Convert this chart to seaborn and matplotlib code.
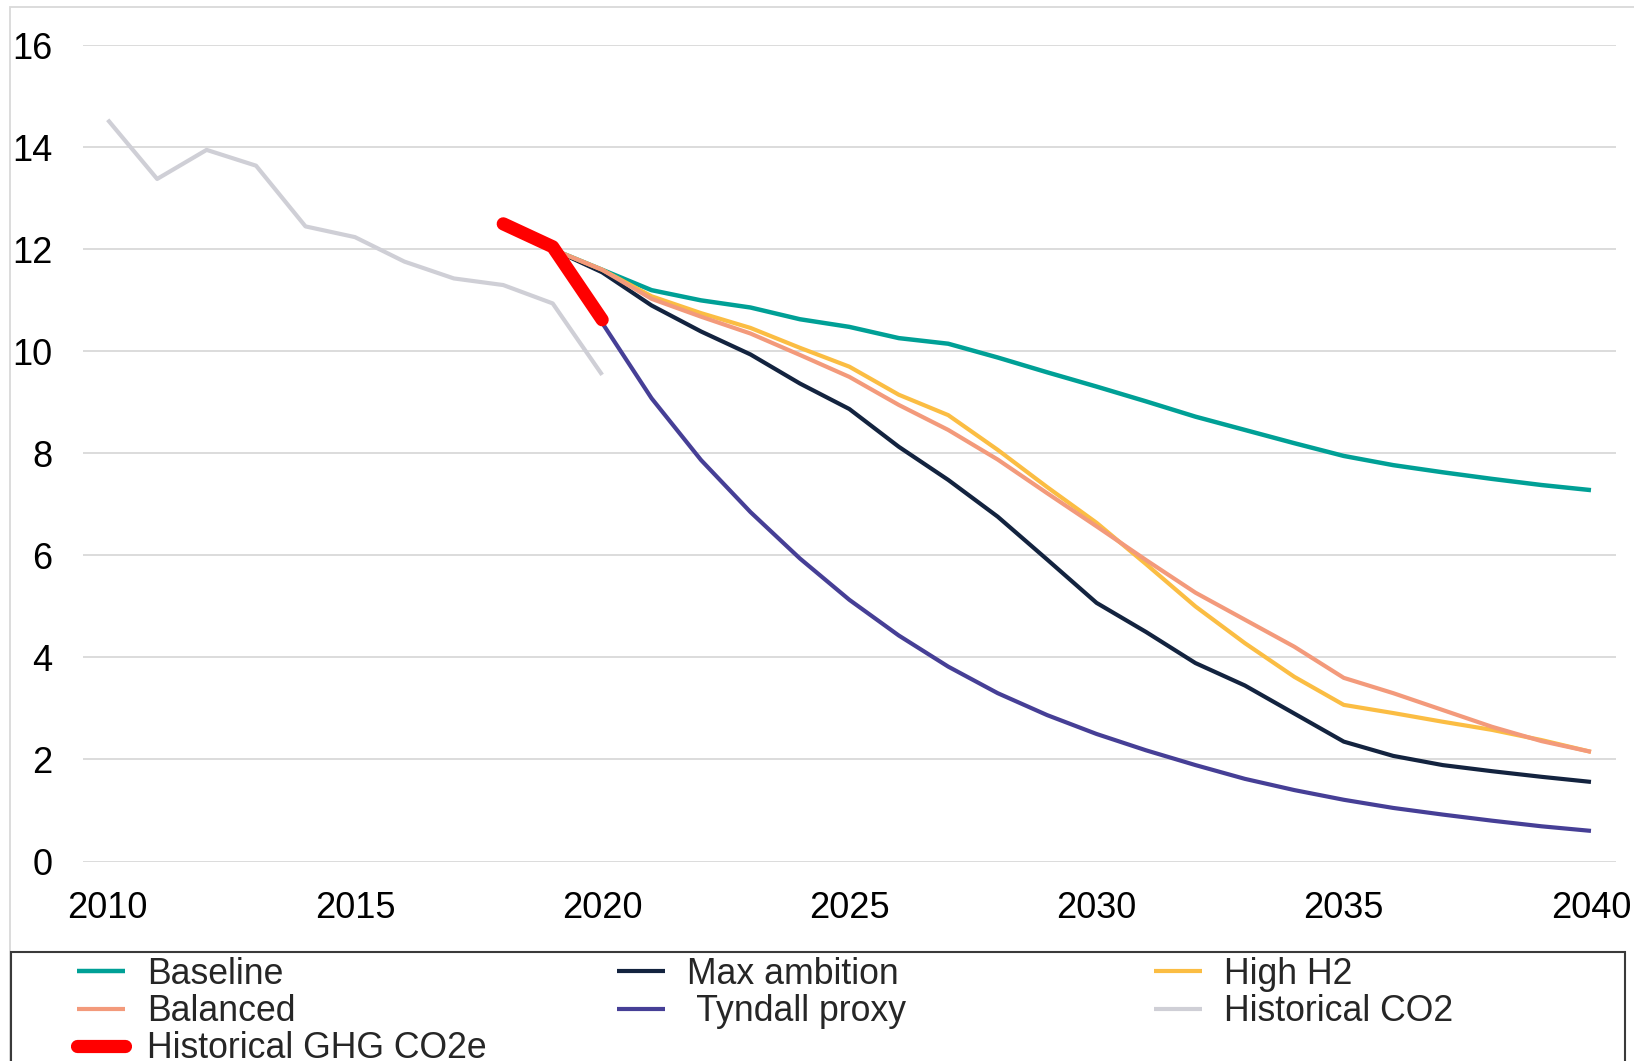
import matplotlib
matplotlib.use("Agg")
import matplotlib.pyplot as plt
from matplotlib.patches import Rectangle
import seaborn as sns
import pandas as pd

# Series values
hist_years = list(range(2010, 2021))
hist_co2 = [14.54, 13.38, 13.95, 13.64, 12.45, 12.24, 11.76, 11.43, 11.30, 10.94, 9.54]

ghg_years = [2018, 2019, 2020]
hist_ghg = [12.50, 12.05, 10.62]

scen_years = list(range(2019, 2041))
baseline = [12.0, 11.6, 11.2, 11.0, 10.86, 10.63, 10.48, 10.26, 10.15, 9.88, 9.59,
            9.31, 9.02, 8.72, 8.46, 8.2, 7.95, 7.77, 7.63, 7.5, 7.38, 7.28]
max_ambition = [12.0, 11.55, 10.9, 10.39, 9.94, 9.37, 8.87, 8.13, 7.48, 6.76, 5.92,
                5.07, 4.5, 3.89, 3.45, 2.9, 2.35, 2.07, 1.89, 1.77, 1.66, 1.56]
high_h2 = [12.0, 11.6, 11.08, 10.75, 10.46, 10.07, 9.7, 9.15, 8.75, 8.07, 7.34,
           6.64, 5.83, 5.0, 4.28, 3.62, 3.07, 2.91, 2.74, 2.58, 2.38, 2.15]
balanced = [12.0, 11.6, 11.03, 10.68, 10.35, 9.93, 9.5, 8.95, 8.46, 7.88, 7.22,
            6.57, 5.91, 5.27, 4.74, 4.21, 3.6, 3.3, 2.97, 2.64, 2.36, 2.15]

tyndall_years = list(range(2020, 2041))
tyndall = [10.56, 9.08, 7.87, 6.85, 5.94, 5.13, 4.43, 3.82, 3.3, 2.87, 2.5,
           2.18, 1.89, 1.62, 1.4, 1.21, 1.05, 0.92, 0.8, 0.69, 0.6]

x_ticks = [2010, 2015, 2020, 2025, 2030, 2035, 2040]
y_ticks = [0, 2, 4, 6, 8, 10, 12, 14, 16]

# (label, years, values, colour, width) in drawing order
series = [
    ("Historical CO2", hist_years, hist_co2, "#CFCFD6", 3.0),
    ("Baseline", scen_years, baseline, "#00A096", 3.2),
    ("Max ambition", scen_years, max_ambition, "#13233F", 3.0),
    ("High H2", scen_years, high_h2, "#FBBD43", 3.0),
    ("Balanced", scen_years, balanced, "#F39A7B", 3.0),
    (" Tyndall proxy", tyndall_years, tyndall, "#463F96", 3.0),
    ("Historical GHG CO2e", ghg_years, hist_ghg, "#FF0000", 9.5),
]

sns.set_theme(style="white")
plt.rcParams["font.family"] = ["Liberation Sans", "DejaVu Sans"]

W, H = 1634, 1061
fig = plt.figure(figsize=(W / 100, H / 100), dpi=100)
ax = fig.add_axes([83 / W, 1 - 861.5 / H, (1615.7 - 83) / W, (861.5 - 45.3) / H])

for label, yrs, vals, col, lw in series:
    df = pd.DataFrame({"year": yrs, "value": vals})
    sns.lineplot(data=df, x="year", y="value", color=col, linewidth=lw,
                 label=label, ax=ax)
for ln in ax.get_lines():
    ln.set_solid_capstyle("round" if ln.get_linewidth() > 5 else "butt")
    ln.set_solid_joinstyle("round")

ax.set_xlim(2009.5, 2040.5)
ax.set_ylim(0, 16)
ax.set_xticks(x_ticks)
ax.set_yticks(y_ticks)
ax.set_xlabel("")
ax.set_ylabel("")
ax.tick_params(axis="both", labelsize=26, colors="black", length=0)
ax.tick_params(axis="y", pad=22)
ax.tick_params(axis="x", pad=21)
ax.grid(axis="y", color="#D9D9D9", linewidth=1.3)
ax.set_axisbelow(True)
for s in ax.spines.values():
    s.set_visible(False)

# legend, three columns at fixed positions like the source
handles, labels = ax.get_legend_handles_labels()
ax.get_legend().remove()
lookup = dict(zip(labels, handles))
columns = [
    (77, ["Baseline", "Balanced", "Historical GHG CO2e"]),
    (617, ["Max ambition", " Tyndall proxy"]),
    (1154, ["High H2", "Historical CO2"]),
]
for x0, labs in columns:
    fig.legend([lookup[l] for l in labs], labs, loc="upper left",
               bbox_to_anchor=(x0 / W, 1 - 956.5 / H), frameon=False,
               fontsize=25.7, handlelength=1.34, handletextpad=0.62,
               labelspacing=0.07, borderpad=0, borderaxespad=0)

# outer chart frame and legend box
fig.patches.append(Rectangle((10 / W, -0.1), 1.2, 1.1 - 6.7 / H, transform=fig.transFigure,
                             fill=False, edgecolor="#D9D9D9", linewidth=1.3))
fig.patches.append(Rectangle((11 / W, -0.1), (1625 - 11) / W, 0.1 + 1 - 951.7 / H,
                             transform=fig.transFigure, fill=False,
                             edgecolor="#3A3A3A", linewidth=1.5))

fig.savefig("out.png", dpi=100)
